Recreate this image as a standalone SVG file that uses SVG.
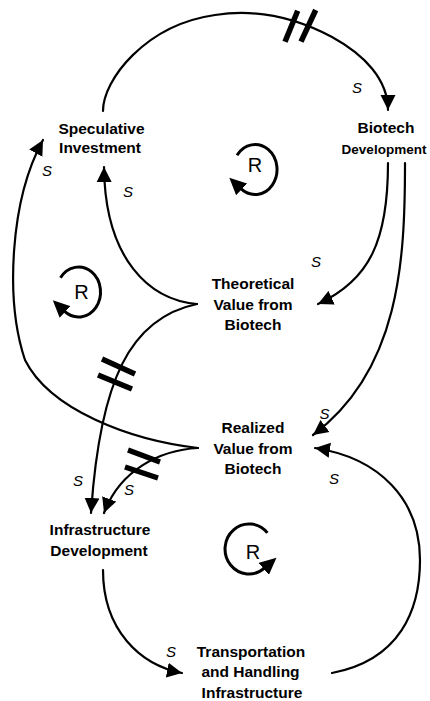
<svg xmlns="http://www.w3.org/2000/svg" width="430" height="701" viewBox="0 0 430 701">
  <style>
    .lbl { font-family: "Liberation Sans", Arial, sans-serif; font-weight: bold; font-size: 15.5px; fill: #000; text-anchor: middle; }
    .lbl-edge { font-size: 13.5px; }
    .pol { font-family: "Liberation Sans", Arial, sans-serif; font-style: italic; font-size: 15px; fill: #000; text-anchor: middle; }
    .loopR { font-family: "Liberation Sans", Arial, sans-serif; font-size: 20px; fill: #000; text-anchor: middle; }
    .link { fill: none; stroke: #000; stroke-width: 2.2; stroke-linecap: round; marker-end: url(#head); }
    .delay { stroke: #000; stroke-width: 5.5; }
    .loop { fill: none; stroke: #000; stroke-width: 3; marker-end: url(#loophead); }
  </style>
  <defs>
    <marker id="head" markerUnits="userSpaceOnUse" markerWidth="16" markerHeight="16" viewBox="0 0 16 16" refX="15" refY="8" orient="auto">
      <path d="M0,0.5 L15,8 L0,15.5 z" fill="#000"/>
    </marker>
    <marker id="loophead" markerUnits="userSpaceOnUse" markerWidth="18" markerHeight="16" viewBox="0 0 18 16" refX="1" refY="8" orient="auto">
      <path d="M0,0 L17,8 L0,16 z" fill="#000"/>
    </marker>
  </defs>

  <!-- causal links -->
  <g id="links">
    <path class="link" d="M103,111 C103,80 145,25 215,15 C260,8 300,20 332,37 C365,55 388,80 388,110"/>
    <path class="link" d="M388,163 C388,240 370,280 318,304"/>
    <path class="link" d="M405,163 C405,260 400,370 313,435"/>
    <path class="link" d="M197,304 C150,300 105,260 104,167"/>
    <path class="link" d="M197,304 C130,318 100,380 91,513"/>
    <path class="link" d="M198,448 C130,440 50,410 25,360 C5,300 10,200 43,140"/>
    <path class="link" d="M198,448 C160,450 120,470 104,513"/>
    <path class="link" d="M103,570 C103,630 140,665 182,673"/>
    <path class="link" d="M332,673 C400,660 420,610 420,560 C420,500 380,458 315,448"/>
  </g>

  <!-- delay marks -->
  <g id="delays">
    <line class="delay" x1="285" y1="41.7" x2="297.7" y2="10.7"/>
    <line class="delay" x1="301" y1="41.7" x2="315.7" y2="10"/>
    <line class="delay" x1="102" y1="359" x2="135" y2="374"/>
    <line class="delay" x1="98" y1="375" x2="132" y2="389"/>
    <line class="delay" x1="128" y1="450" x2="160" y2="462"/>
    <line class="delay" x1="125" y1="467" x2="158" y2="478"/>
  </g>

  <!-- polarity signs -->
  <g id="polarities">
    <text class="pol" x="357" y="93">S</text>
    <text class="pol" x="47" y="176">S</text>
    <text class="pol" x="128" y="196.5">S</text>
    <text class="pol" x="316" y="267">S</text>
    <text class="pol" x="324.5" y="419">S</text>
    <text class="pol" x="334" y="484">S</text>
    <text class="pol" x="78" y="486">S</text>
    <text class="pol" x="129" y="495">S</text>
    <text class="pol" x="171" y="656.5">S</text>
  </g>

  <!-- reinforcing loop markers -->
  <g id="loop-top">
    <path class="loop" d="M237,155.2 A22,25 0 1 1 240.9,188.7"/>
    <text class="loopR" x="255" y="172">R</text>
  </g>
  <g id="loop-left">
    <path class="loop" d="M60.5,277.7 A22,25 0 1 1 64.4,311.2"/>
    <text class="loopR" x="81.5" y="298.5">R</text>
  </g>
  <g id="loop-bottom">
    <path class="loop" d="M267.4,532.9 A24,25 0 1 0 264.4,568.2"/>
    <text class="loopR" x="253" y="559">R</text>
  </g>

  <!-- variables -->
  <g id="speculative-investment">
    <text class="lbl" x="101.5" y="134">Speculative</text>
    <text class="lbl" x="100" y="153">Investment</text>
  </g>
  <g id="biotech-development">
    <text class="lbl" x="386" y="133">Biotech</text>
    <text class="lbl lbl-edge" x="384" y="154">Development</text>
  </g>
  <g id="theoretical-value">
    <text class="lbl" x="253" y="289">Theoretical</text>
    <text class="lbl" x="253" y="310">Value from</text>
    <text class="lbl" x="253" y="330">Biotech</text>
  </g>
  <g id="realized-value">
    <text class="lbl" x="253" y="433">Realized</text>
    <text class="lbl" x="253" y="454">Value from</text>
    <text class="lbl" x="253" y="474">Biotech</text>
  </g>
  <g id="infrastructure-development">
    <text class="lbl" x="100" y="535">Infrastructure</text>
    <text class="lbl" x="99" y="556">Development</text>
  </g>
  <g id="transportation-infrastructure">
    <text class="lbl" x="251" y="657">Transportation</text>
    <text class="lbl" x="250.5" y="677">and Handling</text>
    <text class="lbl" x="252" y="697.5">Infrastructure</text>
  </g>
</svg>
